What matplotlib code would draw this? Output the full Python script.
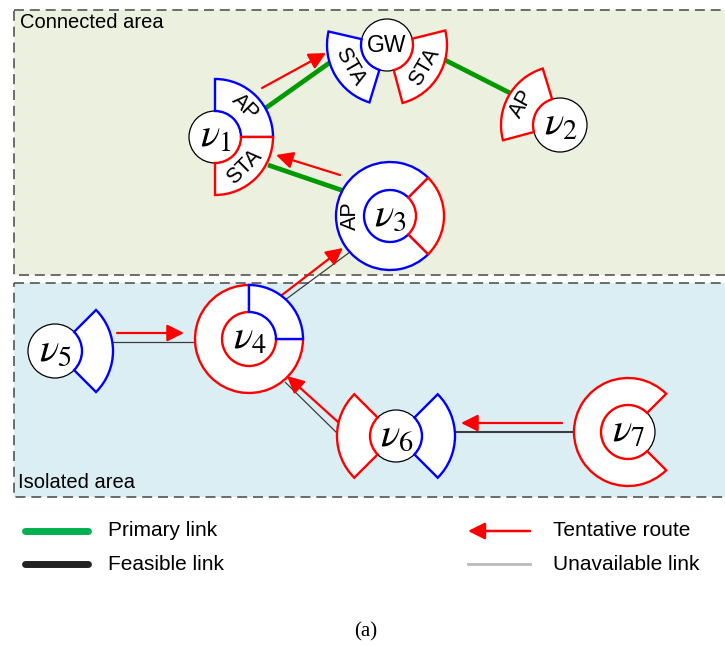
import numpy as np
import matplotlib
matplotlib.use("Agg")
import matplotlib.pyplot as plt
from matplotlib.patches import Wedge, Circle, Rectangle

BLUE = "#0000ff"
RED = "#ff0000"
GREEN = "#009a00"
SANS = ["Liberation Sans", "DejaVu Sans"]

# node centres and radii (pixel layout, y grows downwards)
node_names = ["GW", "v1", "v2", "v3", "v4", "v5", "v6", "v7"]
node_x = [387, 215, 560, 390, 249, 55, 396, 628]
node_y = [45, 137, 125, 216, 339, 351, 436, 432]
node_r = [26, 26, 27, 26, 27, 27, 26, 27]
node_text = ["GW", r"$\nu_1$", r"$\nu_2$", r"$\nu_3$", r"$\nu_4$",
             r"$\nu_5$", r"$\nu_6$", r"$\nu_7$"]

# interface sectors: node, start angle, end angle (deg, counter-clockwise),
# outer radius, colour, text
sectors = [
    ("GW", 167, 253, 60, BLUE, "STA"),
    ("GW", -75, 14, 60, RED, "STA"),
    ("v1", 0, 90, 58, BLUE, "AP"),
    ("v1", -90, 0, 58, RED, "STA"),
    ("v2", 107, 195, 59, RED, "AP"),
    ("v3", 45, 315, 54, BLUE, "AP"),
    ("v3", -45, 45, 54, RED, ""),
    ("v4", 90, 360, 54, RED, ""),
    ("v4", 0, 90, 54, BLUE, ""),
    ("v5", -45, 45, 58, BLUE, ""),
    ("v6", 135, 225, 59, RED, ""),
    ("v6", -45, 45, 59, BLUE, ""),
    ("v7", 45, 315, 54, RED, ""),
]

# links: x0, y0, x1, y1
primary_links = [
    (263, 110, 332, 61),
    (268, 165, 344, 191),
    (443, 59, 510, 93),
]
other_links = [
    (285, 300, 350, 252),
    (112, 342, 197, 342),
    (285, 382, 338, 434),
    (454, 432, 574, 432),
]
other_widths = [0.9, 0.9, 0.9, 1.5]

# tentative routes: tail x, tail y, head x, head y
routes = [
    (262, 88, 326, 53),
    (340, 175, 276, 155),
    (282, 295, 343, 248),
    (117, 333, 184, 333),
    (338, 422, 287, 376),
    (562, 423, 461, 423),
]

legend_left = ["Primary link", "Feasible link"]
legend_right = ["Tentative route", "Unavailable link"]

ARROW = "-|>,head_length=0.6,head_width=0.3"

fig = plt.figure(figsize=(7.25, 6.46), dpi=100)
ax = fig.add_axes([0, 0, 1, 1])
ax.set_xlim(0, 725)
ax.set_ylim(646, 0)
ax.axis("off")

# area backgrounds
ax.add_patch(Rectangle((14, 10), 730, 265, fc="#ebf1de", ec="#555555",
                       lw=1.2, ls=(0, (6, 3.5)), zorder=0))
ax.add_patch(Rectangle((14, 283), 730, 214, fc="#dbeef4", ec="#555555",
                       lw=1.2, ls=(0, (6, 3.5)), zorder=0))
ax.text(20, 23, "Connected area", fontsize=14.5, family=SANS,
        va="center", ha="left")
ax.text(18, 483, "Isolated area", fontsize=14.5, family=SANS,
        va="center", ha="left")

for x0, y0, x1, y1 in primary_links:
    ax.plot([x0, x1], [y0, y1], color=GREEN, lw=3.4,
            solid_capstyle="butt", zorder=1)
for (x0, y0, x1, y1), w in zip(other_links, other_widths):
    ax.plot([x0, x1], [y0, y1], color="#3c3c3c", lw=w,
            solid_capstyle="butt", zorder=1)

for x0, y0, x1, y1 in routes:
    ax.annotate("", xy=(x1, y1), xytext=(x0, y0),
                arrowprops=dict(arrowstyle=ARROW, color=RED, lw=1.6,
                                mutation_scale=17, shrinkA=0, shrinkB=0),
                zorder=2)

pos = {n: (x, y, r) for n, x, y, r in zip(node_names, node_x, node_y, node_r)}

for n in node_names:
    x, y, r = pos[n]
    ax.add_patch(Circle((x, y), r, fc="white", ec="black", lw=0.9, zorder=3))

for n, a0, a1, ro, col, txt in sectors:
    x, y, r = pos[n]
    # y axis points down, so screen angles flip sign in data space
    ax.add_patch(Wedge((x, y), ro, -a1, -a0, width=ro - r, fc="white",
                       ec=col, lw=1.7, zorder=4))
    if txt:
        mid = (a0 + a1) / 2
        rm = (ro + r) / 2
        tx = x + rm * np.cos(np.radians(mid))
        ty = y - rm * np.sin(np.radians(mid))
        m = mid % 360
        rot = mid - 90 if m <= 180 else mid + 90
        ax.text(tx, ty, txt, fontsize=15.5, family=SANS, rotation=rot,
                rotation_mode="anchor", ha="center", va="center", zorder=5)

plt.rcParams["mathtext.fontset"] = "stix"
for n, label in zip(node_names, node_text):
    x, y, r = pos[n]
    if n == "GW":
        ax.text(x, y, label, fontsize=16.5, family=SANS, ha="center",
                va="center", zorder=5)
    else:
        ax.text(x + 1, y - 1, label, fontsize=29, ha="center", va="center",
                zorder=5)

# legend
ax.plot([25, 88], [531, 531], color="#00b050", lw=5, solid_capstyle="round")
ax.plot([25, 88], [564, 564], color="#222222", lw=5, solid_capstyle="round")
for i, t in enumerate(legend_left):
    ax.text(108, 531 + 33 * i, t, fontsize=15, family=SANS, va="center")
ax.annotate("", xy=(468, 531), xytext=(530, 531),
            arrowprops=dict(arrowstyle=ARROW, color=RED, lw=1.8,
                            mutation_scale=17, shrinkA=0, shrinkB=0))
ax.plot([468, 530], [564, 564], color="#bbbbbb", lw=2)
for i, t in enumerate(legend_right):
    ax.text(553, 531 + 33 * i, t, fontsize=15, family=SANS, va="center")

ax.text(366, 632, "(a)", fontsize=15, family=["Liberation Serif", "DejaVu Serif"],
        ha="center", va="center")

fig.savefig("out.png", dpi=100)
